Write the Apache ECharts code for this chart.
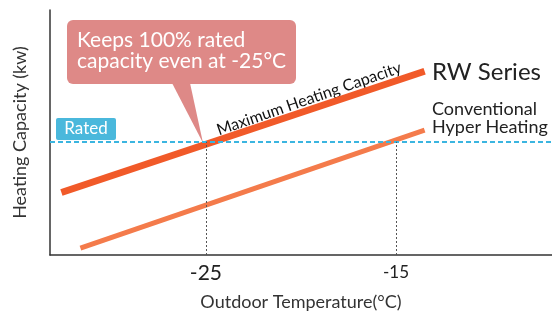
<!DOCTYPE html>
<html>
<head>
<meta charset="utf-8">
<script src="https://cdn.jsdelivr.net/npm/echarts@6/dist/echarts.min.js"></script>
<style>
  html, body { margin: 0; padding: 0; background: #fff; }
  #chart { width: 552px; height: 316px; }
</style>
</head>
<body>
<div id="chart"></div>
<script>
// data (temperature in °C, capacity in relative units)
const rwTemp = [-32.6, -13.5]
const rwCap = [25.5, 75]
const convTemp = [-31.6, -13.5]
const convCap = [2.8, 51]
const ratedCap = 46.2
const markTemps = [-25, -15]
const tickLabels = [-25, -15]

const FONT = 'Lato'
const chart = echarts.init(document.getElementById('chart'))

const toPairs = (xs, ys) => xs.map((x, i) => [x, ys[i]])

chart.setOption({
  animation: false,
  grid: { left: 50, right: 0, top: 10, bottom: 55 },
  xAxis: {
    type: 'value',
    min: -33.2,
    max: -6.8,
    name: 'Outdoor Temperature(°C)',
    nameLocation: 'middle',
    nameGap: 38,
    nameTextStyle: { fontFamily: FONT, fontSize: 18, color: '#333' },
    axisLine: { lineStyle: { color: '#333', width: 1.5 } },
    axisTick: { show: false },
    splitLine: { show: false },
    axisLabel: {
      customValues: tickLabels,
      margin: 5,
      fontFamily: FONT,
      fontSize: 17,
      lineHeight: 26,
      color: '#222',
      // -25 is printed a bit larger in the original
      formatter: (v) => (v === -25 ? '{big|' + v + '}' : String(v)),
      rich: {
        big: { fontSize: 21, lineHeight: 26, fontFamily: FONT, color: '#222' }
      }
    }
  },
  yAxis: {
    type: 'value',
    min: 0,
    max: 100,
    name: 'Heating Capacity (kw)',
    nameLocation: 'middle',
    nameGap: 21,
    nameTextStyle: { fontFamily: FONT, fontSize: 18, color: '#333' },
    axisLine: { show: true, lineStyle: { color: '#333', width: 1.5 } },
    axisTick: { show: false },
    axisLabel: { show: false },
    splitLine: { show: false }
  },
  series: [
    {
      name: 'Rated',
      type: 'line',
      data: [],
      markLine: {
        silent: true,
        symbol: 'none',
        label: { show: false },
        lineStyle: { color: '#3bb5e0', type: [5, 3], width: 2 },
        data: [{ yAxis: ratedCap }]
      }
    },
    {
      name: 'Conventional Hyper Heating',
      type: 'line',
      data: toPairs(convTemp, convCap),
      showSymbol: false,
      lineStyle: { color: '#f47b4b', width: 5, cap: 'butt' },
      markLine: {
        silent: true,
        symbol: 'none',
        label: { show: false },
        lineStyle: { color: '#555', type: [2, 2], width: 1 },
        data: markTemps.map((t) => [{ coord: [t, 0] }, { coord: [t, ratedCap] }])
      }
    },
    {
      name: 'RW Series',
      type: 'line',
      data: toPairs(rwTemp, rwCap),
      showSymbol: false,
      lineStyle: { color: '#f15a29', width: 7, cap: 'butt' }
    }
  ],
  graphic: [
    // callout bubble
    { type: 'rect', shape: { x: 67, y: 20, width: 229, height: 64, r: 6 }, style: { fill: '#de8987' } },
    { type: 'polygon', shape: { points: [[172, 83], [190, 83], [203, 143]] }, style: { fill: '#de8987' } },
    { type: 'text', x: 77, y: 40, style: { text: 'Keeps 100% rated', fill: '#fff', fontSize: 21, fontFamily: FONT, verticalAlign: 'middle' } },
    { type: 'text', x: 77, y: 61, style: { text: 'capacity even at -25°C', fill: '#fff', fontSize: 21, fontFamily: FONT, verticalAlign: 'middle' } },
    // rated tag
    { type: 'rect', shape: { x: 56, y: 118, width: 60, height: 22, r: 2 }, style: { fill: '#4ab8dc' } },
    { type: 'text', x: 86, y: 129, style: { text: 'Rated', fill: '#fff', fontSize: 17, fontFamily: FONT, align: 'center', verticalAlign: 'middle' } },
    // line captions
    { type: 'text', x: 309, y: 99, rotation: 0.333, style: { text: 'Maximum Heating Capacity', fill: '#111', fontSize: 16, fontFamily: FONT, align: 'center', verticalAlign: 'middle' } },
    { type: 'text', x: 432, y: 72, style: { text: 'RW Series', fill: '#222', fontSize: 24, fontFamily: FONT, verticalAlign: 'middle' } },
    { type: 'text', x: 432, y: 109, style: { text: 'Conventional', fill: '#222', fontSize: 18, fontFamily: FONT, verticalAlign: 'middle' } },
    { type: 'text', x: 432, y: 127, style: { text: 'Hyper Heating', fill: '#222', fontSize: 18, fontFamily: FONT, verticalAlign: 'middle' } }
  ]
})
</script>
</body>
</html>
